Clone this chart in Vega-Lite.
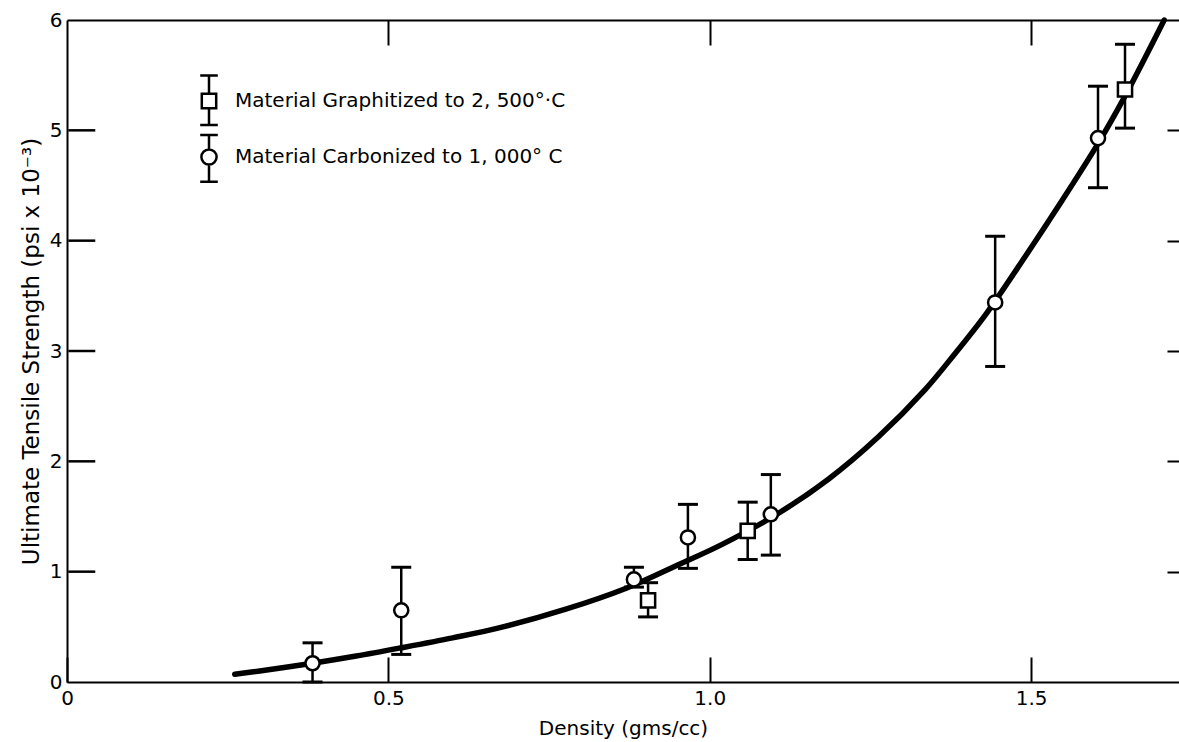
{
  "$schema": "https://vega.github.io/schema/vega-lite/v6.json",
  "width": 1112,
  "height": 662,
  "autosize": {"type": "none"},
  "padding": {"left": 67, "top": 20, "right": 0, "bottom": 60},
  "background": "white",
  "config": {
    "view": {"stroke": null},
    "font": "DejaVu Sans",
    "axis": {
      "domainColor": "black", "domainWidth": 2, "tickColor": "black", "tickWidth": 2,
      "labelColor": "black", "titleColor": "black", "labelFont": "DejaVu Sans", "titleFont": "DejaVu Sans",
      "titleFontWeight": "normal", "grid": false, "labelFontSize": 20, "titleFontSize": 20
    }
  },
  "datasets": {
    "curve": [
      {"density": 0.261, "strength": 0.07},
      {"density": 0.30, "strength": 0.10},
      {"density": 0.382, "strength": 0.17},
      {"density": 0.45, "strength": 0.235},
      {"density": 0.52, "strength": 0.31},
      {"density": 0.60, "strength": 0.40},
      {"density": 0.672, "strength": 0.49},
      {"density": 0.776, "strength": 0.66},
      {"density": 0.87, "strength": 0.85},
      {"density": 0.95, "strength": 1.06},
      {"density": 1.02, "strength": 1.25},
      {"density": 1.107, "strength": 1.53},
      {"density": 1.185, "strength": 1.84},
      {"density": 1.262, "strength": 2.22},
      {"density": 1.335, "strength": 2.65},
      {"density": 1.382, "strength": 2.98},
      {"density": 1.428, "strength": 3.32},
      {"density": 1.49, "strength": 3.85},
      {"density": 1.542, "strength": 4.31},
      {"density": 1.604, "strength": 4.88},
      {"density": 1.646, "strength": 5.31},
      {"density": 1.707, "strength": 6.0}
    ],
    "points": [
      {"material": "Material Graphitized to 2, 500°·C", "density": 0.904, "strength": 0.74, "lo": 0.59, "hi": 0.90},
      {"material": "Material Graphitized to 2, 500°·C", "density": 1.059, "strength": 1.37, "lo": 1.11, "hi": 1.63},
      {"material": "Material Graphitized to 2, 500°·C", "density": 1.646, "strength": 5.37, "lo": 5.02, "hi": 5.78},
      {"material": "Material Carbonized to 1, 000° C", "density": 0.382, "strength": 0.17, "lo": 0.0, "hi": 0.355},
      {"material": "Material Carbonized to 1, 000° C", "density": 0.52, "strength": 0.65, "lo": 0.25, "hi": 1.04},
      {"material": "Material Carbonized to 1, 000° C", "density": 0.882, "strength": 0.93, "lo": 0.86, "hi": 1.04},
      {"material": "Material Carbonized to 1, 000° C", "density": 0.966, "strength": 1.31, "lo": 1.03, "hi": 1.61},
      {"material": "Material Carbonized to 1, 000° C", "density": 1.095, "strength": 1.52, "lo": 1.15, "hi": 1.88},
      {"material": "Material Carbonized to 1, 000° C", "density": 1.444, "strength": 3.44, "lo": 2.86, "hi": 4.04},
      {"material": "Material Carbonized to 1, 000° C", "density": 1.604, "strength": 4.93, "lo": 4.48, "hi": 5.40}
    ],
    "yticks": [{"tick": 1}, {"tick": 2}, {"tick": 3}, {"tick": 4}, {"tick": 5}]
  },
  "resolve": {"scale": {"x": "independent", "y": "independent"}},
  "layer": [
    {
      "layer": [
        {
          "data": {"name": "curve"},
          "mark": {"type": "line", "color": "black", "strokeWidth": 5.5, "strokeCap": "round", "interpolate": "catmull-rom"},
          "encoding": {
            "x": {"field": "density", "type": "quantitative", "scale": {"domain": [0, 1.73], "nice": false}, "axis": null},
            "y": {"field": "strength", "type": "quantitative", "scale": {"domain": [0, 6], "nice": false}, "axis": null}
          }
        },
        {
          "data": {"name": "points"},
          "mark": {"type": "rule", "color": "black", "strokeWidth": 2.5},
          "encoding": {
            "x": {"field": "density", "type": "quantitative", "scale": {"domain": [0, 1.73], "nice": false}, "axis": null},
            "y": {"field": "lo", "type": "quantitative", "scale": {"domain": [0, 6], "nice": false}, "axis": null},
            "y2": {"field": "hi"}
          }
        },
        {
          "data": {"name": "points"},
          "mark": {"type": "tick", "orient": "horizontal", "color": "black", "size": 20, "thickness": 3, "opacity": 1},
          "encoding": {
            "x": {"field": "density", "type": "quantitative", "scale": {"domain": [0, 1.73], "nice": false}, "axis": null},
            "y": {"field": "lo", "type": "quantitative", "scale": {"domain": [0, 6], "nice": false}, "axis": null}
          }
        },
        {
          "data": {"name": "points"},
          "mark": {"type": "tick", "orient": "horizontal", "color": "black", "size": 20, "thickness": 3, "opacity": 1},
          "encoding": {
            "x": {"field": "density", "type": "quantitative", "scale": {"domain": [0, 1.73], "nice": false}, "axis": null},
            "y": {"field": "hi", "type": "quantitative", "scale": {"domain": [0, 6], "nice": false}, "axis": null}
          }
        },
        {
          "data": {"name": "points"},
          "transform": [{"filter": "indexof(datum.material, 'Graphitized') >= 0"}],
          "mark": {"type": "point", "shape": "square", "filled": true, "fill": "white", "stroke": "black", "strokeWidth": 2.5, "size": 200, "opacity": 1},
          "encoding": {
            "x": {"field": "density", "type": "quantitative", "scale": {"domain": [0, 1.73], "nice": false}, "axis": null},
            "y": {"field": "strength", "type": "quantitative", "scale": {"domain": [0, 6], "nice": false}, "axis": null}
          }
        },
        {
          "data": {"name": "points"},
          "transform": [{"filter": "indexof(datum.material, 'Carbonized') >= 0"}],
          "mark": {"type": "point", "shape": "circle", "filled": true, "fill": "white", "stroke": "black", "strokeWidth": 2.5, "size": 200, "opacity": 1},
          "encoding": {
            "x": {"field": "density", "type": "quantitative", "scale": {"domain": [0, 1.73], "nice": false}, "axis": null},
            "y": {"field": "strength", "type": "quantitative", "scale": {"domain": [0, 6], "nice": false}, "axis": null}
          }
        }
      ]
    },
    {
      "data": {"name": "points"},
      "mark": {"type": "point", "size": 0, "filled": false, "color": "black", "strokeWidth": 2.5},
      "encoding": {
        "x": {"field": "density", "type": "quantitative", "scale": {"domain": [0, 1.73], "nice": false},
          "axis": {"orient": "bottom", "values": [0, 0.5, 1, 1.5], "labelExpr": "datum.value == 0 ? '0' : format(datum.value, '.1f')",
            "tickSize": -25, "labelPadding": 31, "title": "Density (gms/cc)", "titlePadding": 10, "labelFlush": false}},
        "y": {"field": "strength", "type": "quantitative", "scale": {"domain": [0, 6], "nice": false},
          "axis": {"orient": "left", "values": [0, 1, 2, 3, 4, 5, 6], "format": "d", "ticks": false, "tickSize": 0, "labelPadding": 5,
            "title": "Ultimate Tensile Strength (psi x 10⁻³)", "titlePadding": 6, "labelFlush": false, "titleFontSize": 23}},
        "shape": {
          "field": "material", "type": "nominal",
          "scale": {
            "domain": ["Material Graphitized to 2, 500°·C", "Material Carbonized to 1, 000° C"],
            "range": [
              "M-0.9,-0.9L0.9,-0.9L0.9,0.9L-0.9,0.9Z M0,-0.9L0,-3.2 M-1.1,-3.2L1.1,-3.2 M0,0.9L0,3.0 M-1.1,3.0L1.1,3.0",
              "M-0.95,0A0.95,0.95,0,1,0,0.95,0A0.95,0.95,0,1,0,-0.95,0Z M0,-0.95L0,-2.75 M-1.1,-2.75L1.1,-2.75 M0,0.95L0,3.1 M-1.1,3.1L1.1,3.1"
            ]
          },
          "legend": {
            "orient": "none", "legendX": 132, "legendY": 71, "title": null, "padding": 0,
            "labelFontSize": 20, "labelFont": "DejaVu Sans", "labelColor": "black", "labelLimit": 0,
            "symbolSize": 256, "symbolStrokeWidth": 2.5, "symbolStrokeColor": "black", "symbolFillColor": "white",
            "symbolOpacity": 1, "labelOffset": 16, "rowPadding": 0
          }
        }
      }
    },
    {
      "data": {"name": "points"},
      "mark": {"type": "point", "size": 0, "filled": false, "color": "black"},
      "encoding": {
        "x": {"field": "density", "type": "quantitative", "scale": {"domain": [0, 1.73], "nice": false},
          "axis": {"orient": "top", "values": [0.5, 1, 1.5], "labels": false, "tickSize": -25, "title": null}},
        "y": {"field": "strength", "type": "quantitative", "scale": {"domain": [0, 6], "nice": false},
          "axis": {"orient": "right", "values": [1, 2, 3, 4, 5], "labels": false, "tickSize": -12, "domain": false, "title": null}}
      }
    },
    {
      "data": {"name": "yticks"},
      "mark": {"type": "rule", "color": "black", "strokeWidth": 2.5, "opacity": 1},
      "encoding": {
        "x": {"datum": 0.002, "type": "quantitative", "scale": {"domain": [0, 1.73], "nice": false}, "axis": null},
        "x2": {"datum": 0.044},
        "y": {"field": "tick", "type": "quantitative", "scale": {"domain": [0, 6], "nice": false}, "axis": null}
      }
    }
  ]
}
